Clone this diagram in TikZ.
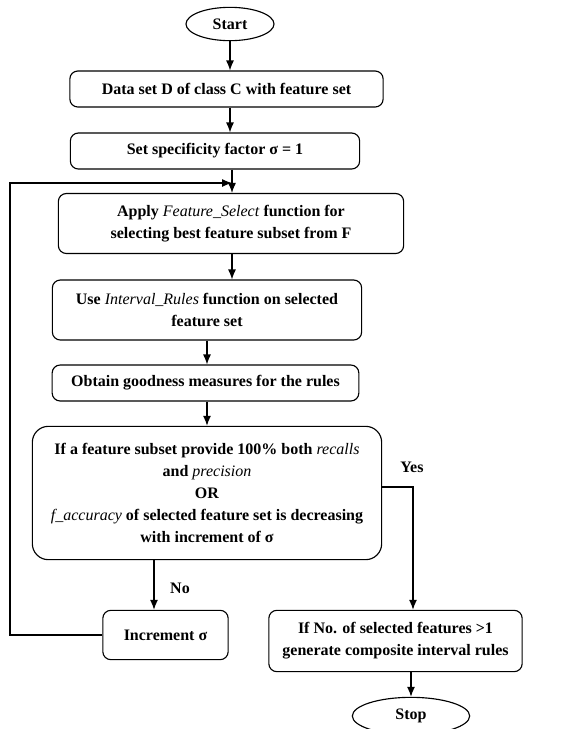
\documentclass[tikz,border=0pt]{standalone}
\usepackage{fontspec}
\setmainfont{Liberation Serif}
\usetikzlibrary{arrows.meta,shapes.geometric}
\tikzset{
  flowbox/.style={draw,line width=.85pt,rounded corners=6pt,align=center,inner sep=0pt,font=\fontsize{12}{16.5}\selectfont\bfseries},
  flowend/.style={draw,line width=.85pt,ellipse,inner sep=0pt,font=\fontsize{12}{16.5}\selectfont\bfseries},
  flowarr/.style={line width=.85pt,-{Latex[length=7.5pt,width=6pt]}},
  flowlbl/.style={font=\fontsize{12}{14}\selectfont\bfseries}
}
\newcommand{\itname}[1]{\textit{\mdseries #1}}
\begin{document}
\begin{tikzpicture}[x=0.75pt,y=-0.75pt]
\path[use as bounding box] (0,0) rectangle (588,729);
\fill[white] (0,0) rectangle (588,729);
\node[flowend,minimum width=66pt,minimum height=25pt] (start) at (230,24) {Start};
\node[flowbox,minimum width=235pt,minimum height=27pt] (data) at (226.5,89) {Data set D of class C with feature set};
\node[flowbox,minimum width=217pt,minimum height=27pt] (sigma) at (215,151) {Set specificity factor σ = 1};
\node[flowbox,minimum width=259pt,minimum height=45pt] (apply) at (231,223.5) {Apply \itname{Feature\_Select} function for\\selecting best feature subset from F};
\node[flowbox,minimum width=232pt,minimum height=45pt] (rules) at (207,310) {Use \itname{Interval\_Rules} function on selected\\feature set};
\node[flowbox,minimum width=230pt,minimum height=27pt] (good) at (205.5,383) {Obtain goodness measures for the rules};
\node[flowbox,rounded corners=12pt,minimum width=262pt,minimum height=100pt] (check) at (207,493) {If a feature subset provide 100\% both \itname{recalls}\\and \itname{precision}\\OR\\\itname{f\_accuracy} of selected feature set is decreasing\\with increment of σ};
\node[flowbox,minimum width=94pt,minimum height=37pt] (incr) at (165.5,635) {Increment σ};
\node[flowbox,minimum width=190pt,minimum height=46pt] (comp) at (395.5,641) {If No. of selected features >1\\generate composite interval rules};
\node[flowend,minimum width=88pt,minimum height=28pt] (stop) at (411,716) {Stop};
\coordinate (join) at (232,183);
\node[flowlbl] (no) at (180,588) {No};
\node[flowlbl] (yes) at (412,467) {Yes};
\draw[flowarr] (start.south) -- (start.south |- data.north);
\draw[flowarr] (data.south -| start) -- (start |- sigma.north);
\draw[flowarr] (sigma.south -| join) -- (join |- apply.north);
\draw[flowarr] (apply.south -| join) -- (join |- rules.north);
\draw[flowarr] (rules.south) -- (good.north -| rules);
\draw[flowarr] (good.south -| rules) -- (check.north);
\draw[flowarr] (check.south -| 154,0) -- (154,0 |- incr.north);
\draw[flowarr] (check.east |- 0,487) -| (comp.north -| 413,0);
\draw[flowarr] (comp.south -| stop) -- (stop.north);
\draw[flowarr] (incr.west) -- (10,0 |- incr.west) |- (join);
\end{tikzpicture}
\end{document}
